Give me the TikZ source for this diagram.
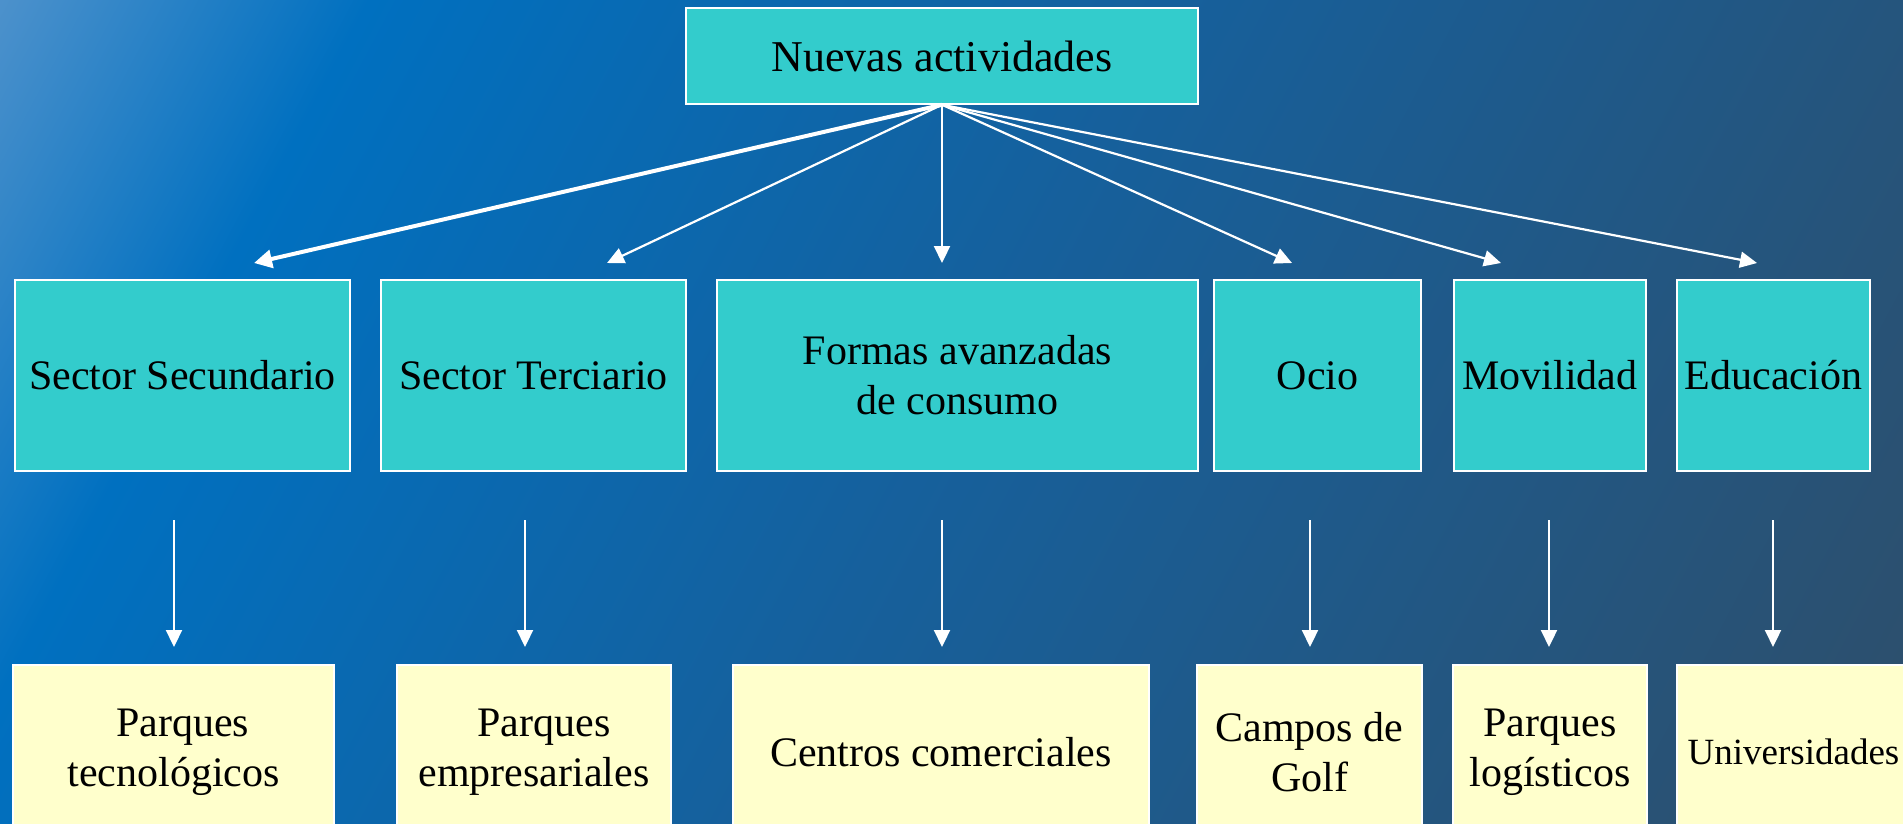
\documentclass[tikz,border=0pt]{standalone}
\usepackage{fontspec}
\setmainfont{Liberation Serif}
\usetikzlibrary{arrows.meta}
\definecolor{bgA}{RGB}{78,146,204}
\definecolor{bgB}{RGB}{0,112,192}
\definecolor{bgC}{RGB}{22,96,156}
\definecolor{bgD}{RGB}{46,78,106}
\definecolor{cyanbox}{RGB}{51,204,204}
\definecolor{yellowbox}{RGB}{255,255,204}
\pgfdeclarehorizontalshading{bgshade}{100bp}{color(0bp)=(bgA); color(25bp)=(bgA); color(33bp)=(bgB); color(50bp)=(bgC); color(75bp)=(bgD); color(100bp)=(bgD)}
\tikzset{
  cbox/.style={draw=white, line width=1.5pt, fill=cyanbox, inner sep=0pt, align=center,
    text=black, font=\fontsize{42}{50}\selectfont},
  ybox/.style={cbox, fill=yellowbox},
  arr/.style={draw=white, line width=2.2pt, -{Triangle[length=17pt,width=16pt]}},
  thickarr/.style={draw=white, line width=4pt, -{Triangle[length=18pt,width=18pt]}}
}
\begin{document}
\begin{tikzpicture}[x=1pt,y=-1pt]
\useasboundingbox (0,0) rectangle (1903,823);
\begin{scope}
\clip (0,0) rectangle (1903,823);
\begin{scope}[transform canvas={shift={(951.5,411.5)},rotate=-28}]
\shade[shading=bgshade] (-1040,-815) rectangle (1040,815);
\end{scope}

% top
\node[cbox, minimum width=512pt, minimum height=96pt, font=\fontsize{44}{52}\selectfont] (top) at (942,56) {Nuevas actividades};

% middle row
\node[cbox, minimum width=335pt, minimum height=191pt] (ss) at (182.5,375.5) {Sector Secundario};
\node[cbox, minimum width=305pt, minimum height=191pt] (st) at (533.5,375.5) {Sector Terciario};
\node[cbox, minimum width=481pt, minimum height=191pt] (fa) at (957.5,375.5) {Formas avanzadas\\de consumo};
\node[cbox, minimum width=207pt, minimum height=191pt] (oc) at (1317.5,375.5) {Ocio};
\node[cbox, minimum width=192pt, minimum height=191pt] (mo) at (1550,375.5) {Movilidad};
\node[cbox, minimum width=193pt, minimum height=191pt] (ed) at (1773.5,375.5) {Educación};

% bottom row
\node[ybox, minimum width=321pt, minimum height=174pt] (pt) at (173.5,752) {\hspace*{18pt}Parques\\tecnológicos};
\node[ybox, minimum width=274pt, minimum height=174pt] (pe) at (534,752) {\hspace*{20pt}Parques\\empresariales};
\node[ybox, minimum width=416pt, minimum height=174pt] (cc) at (941,752) {Centros comerciales};
\node[ybox, minimum width=225pt, minimum height=174pt] (cg) at (1309.5,752) {Campos de\\Golf};
\node[ybox, minimum width=194pt, minimum height=174pt] (pl) at (1550,752) {Parques\\logísticos};
\node[ybox, minimum width=233pt, minimum height=174pt, font=\fontsize{37}{44}\selectfont] (un) at (1793.5,752) {Universidades};

% arrows from top
\coordinate (t1) at (254,263);
\coordinate (t2) at (607,263);
\coordinate (t3) at (942,263);
\coordinate (t4) at (1292,263);
\coordinate (t5) at (1501,263);
\coordinate (t6) at (1757,263);
\draw[thickarr] (top.south) -- (t1);
\draw[arr] (top.south) -- (t2);
\draw[arr] (top.south) -- (t3);
\draw[arr] (top.south) -- (t4);
\draw[arr] (top.south) -- (t5);
\draw[arr] (top.south) -- (t6);

% arrows middle to bottom
\foreach \n/\x in {1/174,2/525,3/942,4/1310,5/1549,6/1773}{
  \coordinate (b\n s) at (\x,520);
  \coordinate (b\n e) at (\x,647);
}
\draw[arr] (b1s) -- (b1e);
\draw[arr] (b2s) -- (b2e);
\draw[arr] (b3s) -- (b3e);
\draw[arr] (b4s) -- (b4e);
\draw[arr] (b5s) -- (b5e);
\draw[arr] (b6s) -- (b6e);
\end{scope}
\end{tikzpicture}
\end{document}
